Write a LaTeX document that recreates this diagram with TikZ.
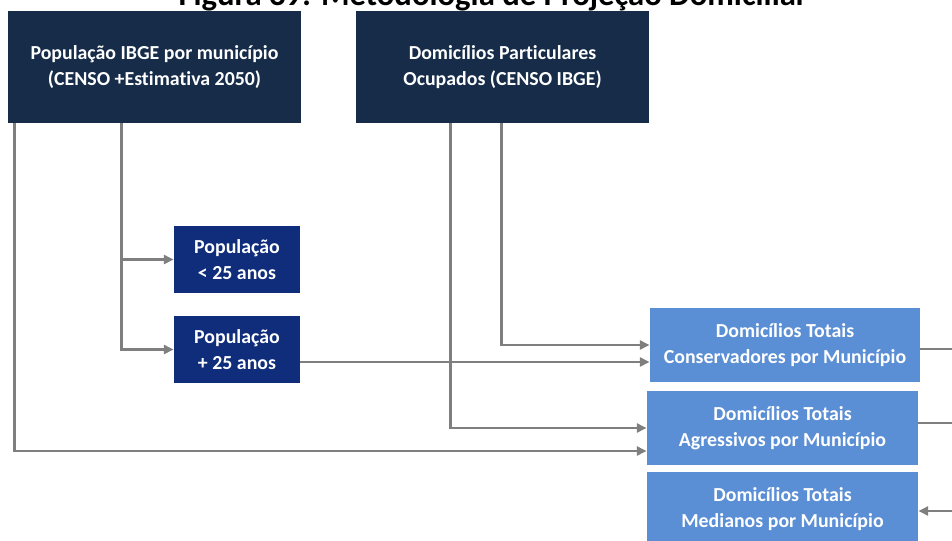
\documentclass[tikz,border=0pt]{standalone}
\usepackage{fontspec}
\setmainfont[Ligatures=NoCommon]{Carlito}
\usetikzlibrary{arrows.meta}
\definecolor{navy}{HTML}{162C49}
\definecolor{royal}{HTML}{0F2D7B}
\definecolor{sky}{HTML}{5B8FD5}
\definecolor{wire}{HTML}{7F7F7F}
\tikzset{
  block/.style={
    rectangle,
    fill=#1,
    text=white,
    align=center,
    inner sep=0pt,
    font=\fontsize{11.3}{14.7}\selectfont\bfseries,
  },
  block/.default=navy,
  source/.style={block=navy, minimum width=5.86cm, minimum height=2.24cm},
  group/.style={block=royal, minimum width=2.52cm, minimum height=1.34cm},
  result/.style={block=sky, minimum width=5.42cm, minimum height=1.48cm},
  link/.style={draw=wire, line width=1.6pt, -{Triangle[length=5.5pt,width=5pt]}},
  wire/.style={draw=wire, line width=1.6pt}
}

\begin{document}
\begin{tikzpicture}
\useasboundingbox (0,0) rectangle (19.04,-10.82);
\node[anchor=base, font=\fontsize{18.6}{22}\selectfont\bfseries] (title) at (9.86,-0.1)
  {Figura 39: Metodologia de Projeção Domiciliar};

\node[source] (pop)  at (3.09,-1.34)  {População IBGE por município\\(CENSO +Estimativa 2050)};
\node[source] (dom)  at (10.05,-1.34) {Domicílios Particulares\\Ocupados (CENSO IBGE)};
\node[group]  (jov)  at (4.74,-5.19)  {População\\< 25 anos};
\node[group]  (adu)  at (4.74,-6.99)  {População\\+ 25 anos};
\node[result, minimum width=5.4cm] (cons) at (15.7,-6.9)   {Domicílios Totais\\Conservadores por Município};
\node[result] (agr)  at (15.65,-8.56) {Domicílios Totais\\Agressivos por Município};
\node[result] (med)  at (15.65,-10.18) {Domicílios Totais\\Medianos por Município};

\coordinate (rim) at (19.4,0);

% population branches
\draw[link] ([xshift=2.28cm]pop.south west) |- (adu.west);
\draw[link] ([xshift=2.28cm]pop.south west |- jov.west) -- (jov.west);
\draw[link] ([xshift=0.14cm]pop.south west) |- ([yshift=-0.46cm]agr.west);
\draw[link] ([yshift=-0.25cm]adu.east) -- ([yshift=-0.25cm]adu.east -| cons.west);

% households
\draw[link] ([xshift=2.92cm]dom.south west) |- (cons.west);
\draw[link] ([xshift=1.9cm]dom.south west) |- (agr.west);

% outputs
\draw[wire] ([yshift=-0.08cm]cons.east) -- ([yshift=-0.08cm]cons.east -| rim);
\draw[wire] ([yshift=0.1cm]agr.east) -- ([yshift=0.1cm]agr.east -| rim);
\draw[link] ([yshift=-0.04cm]med.east -| rim) -- ([yshift=-0.04cm]med.east);
\end{tikzpicture}
\end{document}
